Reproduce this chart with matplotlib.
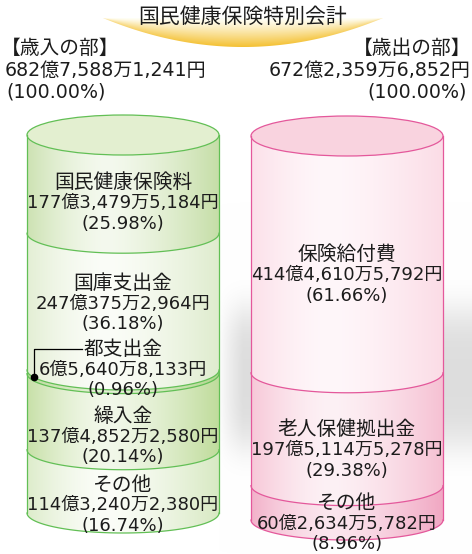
import numpy as np
import matplotlib
matplotlib.use("Agg")
import matplotlib.pyplot as plt
from matplotlib.patches import Polygon, Ellipse
from matplotlib.colors import to_rgb

# ---------------- data ----------------
title = "国民健康保険特別会計"
rev_header = ["【歳入の部】", "682億7,588万1,241円", "(100.00%)"]
exp_header = ["【歳出の部】", "672億2,359万6,852円", "(100.00%)"]

rev_names = ["国民健康保険料", "国庫支出金", "都支出金", "繰入金", "その他"]
rev_amounts = ["177億3,479万5,184円", "247億375万2,964円", "6億5,640万8,133円",
               "137億4,852万2,580円", "114億3,240万2,380円"]
rev_pct = [25.98, 36.18, 0.96, 20.14, 16.74]

exp_names = ["保険給付費", "老人保健拠出金", "その他"]
exp_amounts = ["414億4,610万5,792円", "197億5,114万5,278円", "60億2,634万5,782円"]
exp_pct = [61.66, 29.38, 8.96]

# ---------------- style ----------------
FONT = ["DejaVu Sans", "Noto Sans CJK JP"]
TXT = "#1c1c1c"
W, H = 472, 554

fig = plt.figure(figsize=(W / 100, H / 100), dpi=100)
ax = fig.add_axes([0, 0, 1, 1])
ax.axis("off")

# soft grey shadow behind cylinders
yy, xx = np.mgrid[0:H, 0:W] + 0.5
gy = np.exp(-((yy - 378) / 72.0) ** 4)
fx = np.clip((xx - 219) / 24.0, 0, 1) ** 0.8
val = 1 - 0.13 * gy * fx
bg = np.dstack([val, val, val])
ax.imshow(bg, extent=(0, W, H, 0), origin="upper", aspect="auto", zorder=0,
          interpolation="bilinear")

# title banner
bx0, bx1, btop, bdepth = 103, 383, 18, 29
bcx = (bx0 + bx1) / 2
xs = np.linspace(bx0, bx1, 120)
ybot = btop + bdepth * (1 - ((xs - bcx) / ((bx1 - bx0) / 2)) ** 2)
poly = np.vstack([np.column_stack([xs, np.full_like(xs, btop)]),
                  np.column_stack([xs[::-1], ybot[::-1]])])
banner = Polygon(poly, closed=True, fc="none", ec="none")
ax.add_patch(banner)
gyy, gxx = np.mgrid[btop:btop + bdepth + 1:0.5, bx0:bx1:0.5]
ub = (gxx - bcx) / ((bx1 - bx0) / 2)
yb = btop + bdepth * (1 - ub ** 2)
t = np.clip((gyy - btop) / np.maximum(yb - btop, 1e-3), 0, 1) ** 1.2
t = t * (0.6 + 0.4 * (1 - np.abs(ub) ** 2))
yel = np.array(to_rgb("#f4c030"))
img = (1 - t[..., None]) * np.array([1.0, 1.0, 0.97]) + t[..., None] * yel
im = ax.imshow(img, extent=(bx0, bx1, btop + bdepth + 1, btop), origin="upper",
               aspect="auto", zorder=1, interpolation="bilinear")
im.set_clip_path(banner)
ax.text(bcx, 17, title, ha="center", va="center", fontsize=15, color=TXT,
        family=FONT, zorder=5)

# headers
head_fs = [14.2, 13.7, 13.7]
for i, (s, x) in enumerate(zip(rev_header, [0.5, 5, 6])):
    ax.text(x, 48 + i * 22, s, ha="left", va="center", fontsize=head_fs[i], color=TXT,
            family=FONT, zorder=5)
for i, (s, x) in enumerate(zip(exp_header, [471.5, 471, 467])):
    ax.text(x, 48 + i * 22, s, ha="right", va="center", fontsize=head_fs[i], color=TXT,
            family=FONT, zorder=5)


def profile(u, peak=0.42):
    return np.where(u < peak, 0.85 * ((peak - u) / peak) ** 1.6,
                    ((u - peak) / (1 - peak)) ** 1.4)


def cylinder(cx, rx, ry, y0, y1, pcts, fills, top_fill, edge):
    total = sum(pcts)
    bounds = y0 + (y1 - y0) * np.cumsum([0] + list(pcts)) / total
    th1 = np.linspace(np.pi, 0, 80)
    th2 = np.linspace(0, np.pi, 80)
    u = np.linspace(0, 1, 300)
    pr = profile(u)
    for i in range(len(pcts)):
        top, bot = bounds[i], bounds[i + 1]
        pts = np.vstack([
            np.column_stack([cx + rx * np.cos(th1), top + ry * np.sin(th1)]),
            np.column_stack([cx + rx * np.cos(th2), bot + ry * np.sin(th2)]),
        ])
        patch = Polygon(pts, closed=True, fc="none", ec="none")
        ax.add_patch(patch)
        ec_, cc_ = np.array(to_rgb(fills[i][0])), np.array(to_rgb(fills[i][1]))
        grad = cc_[None, :] + (ec_ - cc_)[None, :] * pr[:, None]
        im = ax.imshow(grad[None, :, :], extent=(cx - rx, cx + rx, bot + ry + 2, top - 2),
                       origin="upper", aspect="auto", zorder=2, interpolation="bilinear")
        im.set_clip_path(patch)
        ax.plot(cx + rx * np.cos(th2), bot + ry * np.sin(th2), color=edge, lw=0.9, zorder=3)
    ax.add_patch(Ellipse((cx, y0), 2 * rx, 2 * ry, fc=top_fill, ec=edge, lw=0.9, zorder=3))
    ax.plot([cx - rx, cx - rx], [y0, y1], color=edge, lw=0.9, zorder=3)
    ax.plot([cx + rx, cx + rx], [y0, y1], color=edge, lw=0.9, zorder=3)
    return bounds


LINE = 20.5
NAME_FS, BODY_FS = 14.2, 13


def label(cx, yc, name, amount, pct):
    ax.text(cx, yc - LINE, name, ha="center", va="center", fontsize=NAME_FS,
            color=TXT, family=FONT, zorder=5)
    ax.text(cx, yc, amount, ha="center", va="center", fontsize=BODY_FS,
            color=TXT, family=FONT, zorder=5)
    ax.text(cx, yc + LINE, f"({pct:.2f}%)", ha="center", va="center", fontsize=BODY_FS,
            color=TXT, family=FONT, zorder=5)


# left cylinder (revenue)
lcx, lrx, lry = 123, 96, 20
green_fills = [("#c6dea8", "#f4f9ee"), ("#dfecce", "#fbfdf8"), ("#b2d68e", "#e4f0d5"),
               ("#c0dc9c", "#f2f8ea"), ("#d8e9c3", "#fbfdf8")]
lb = cylinder(lcx, lrx, lry, 135, 513, rev_pct, green_fills, "#e3efd0", "#62bf55")
rev_label_shift = {0: -1, 1: -18, 3: 5, 4: 4}
for i, (n, a) in enumerate(zip(rev_names, rev_amounts)):
    if i == 2:
        yc = lb[i]
    else:
        yc = (lb[i] + lb[i + 1]) / 2 + lry + rev_label_shift.get(i, 0)
    label(lcx, yc, n, a, rev_pct[i])

# leader for the thin segment
dx = lcx - lrx + 7
dy = lb[2] + lry * np.sqrt(1 - ((dx - lcx) / lrx) ** 2)
ty = lb[2] - LINE
ax.plot([82, dx, dx], [ty, ty, dy], color="black", lw=0.9, zorder=6)
ax.plot([dx], [dy], marker="o", ms=4.5, color="black", zorder=6)

# right cylinder (expenditure)
rcx, rrx, rry = 347, 96, 20
pink_fills = [("#fbdce6", "#fff7fa"), ("#f6c1d3", "#fdf1f5"), ("#f1a8c3", "#fbe6ee")]
rb = cylinder(rcx, rrx, rry, 136, 520, exp_pct, pink_fills, "#f9d3df", "#e4589b")
for i, (n, a) in enumerate(zip(exp_names, exp_amounts)):
    yc = (rb[i] + rb[i + 1]) / 2 + rry + 1
    label(rcx, yc, n, a, exp_pct[i])

ax.set_xlim(0, W)
ax.set_ylim(H, 0)
fig.savefig("out.png", dpi=100)
